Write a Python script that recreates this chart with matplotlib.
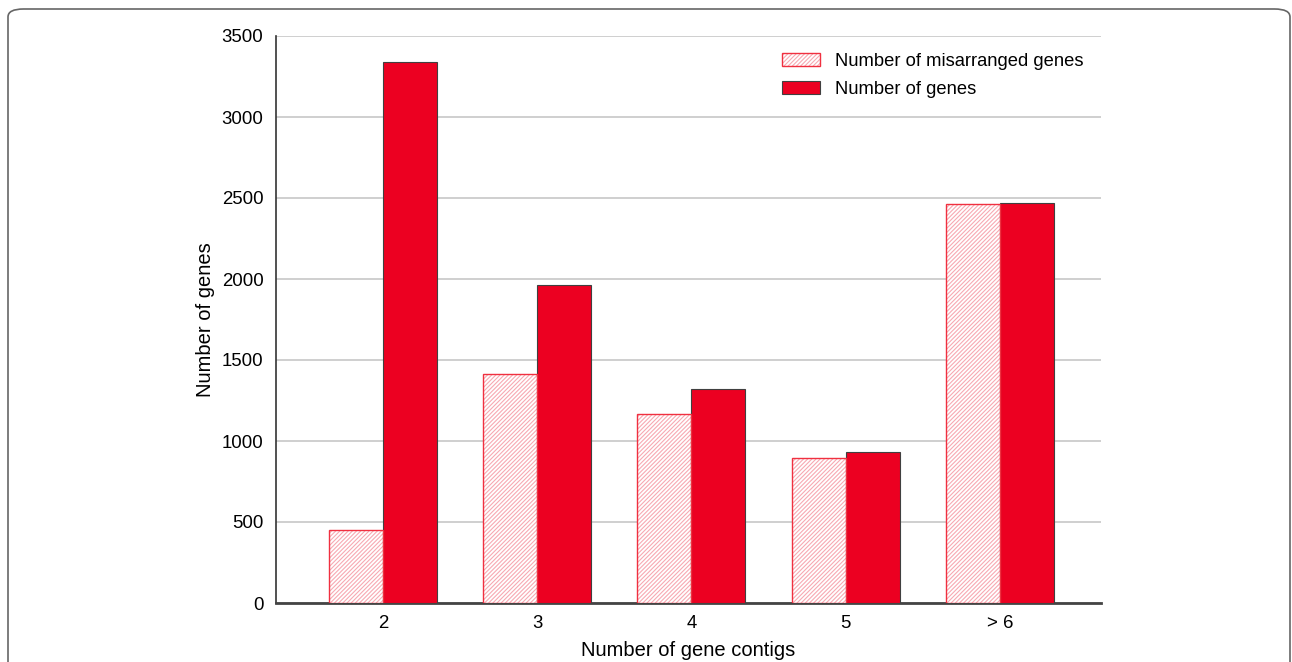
import matplotlib
matplotlib.use("Agg")
import matplotlib.pyplot as plt
from matplotlib.patches import FancyBboxPatch, Patch
from matplotlib.legend_handler import HandlerTuple
import numpy as np

plt.rcParams['font.family'] = ['Liberation Sans', 'DejaVu Sans']
plt.rcParams['hatch.linewidth'] = 0.8

categories = ["2", "3", "4", "5", "> 6"]
misarranged = [450, 1415, 1167, 895, 2463]
genes = [3340, 1963, 1321, 932, 2469]
yticks = [0, 500, 1000, 1500, 2000, 2500, 3000, 3500]

RED = "#ec0021"
HATCH = "#f7a9b2"
OUTLINE = "#f03040"
fig = plt.figure(figsize=(12.92, 6.62), dpi=100)
ax = fig.add_axes([276/1292, 59/662, 825/1292, 567/662])

x = np.arange(len(categories))
w = 0.35
ax.bar(x - w/2, misarranged, w, facecolor="white", edgecolor=HATCH,
       hatch="////////", linewidth=0, zorder=3)
ax.bar(x - w/2, misarranged, w, facecolor="none", edgecolor=OUTLINE,
       linewidth=1.0, zorder=4)
ax.bar(x + w/2, genes, w, facecolor=RED, edgecolor="#404040", linewidth=0.8,
       zorder=3)

ax.set_xlim(-0.693, 4.655)
ax.set_ylim(0, 3500)
ax.set_yticks(yticks)
ax.set_xticks(x)
ax.set_xticklabels(categories)
ax.tick_params(axis='both', length=0, labelsize=13.4, pad=9)
ax.yaxis.grid(True, color="#cccccc", linewidth=1.3, zorder=0)
ax.set_axisbelow(True)
for s in ["top", "right"]:
    ax.spines[s].set_visible(False)
ax.spines["left"].set_color("#333333")
ax.spines["left"].set_linewidth(1.2)
ax.spines["bottom"].set_color("#444444")
ax.spines["bottom"].set_linewidth(2)
ax.set_xlabel("Number of gene contigs", fontsize=14.5, labelpad=6)
ax.set_ylabel("Number of genes", fontsize=14.5, labelpad=5)

h1 = (Patch(facecolor="white", edgecolor=HATCH, hatch="////////", linewidth=0),
      Patch(facecolor="none", edgecolor=OUTLINE, linewidth=1.0))
h2 = Patch(facecolor=RED, edgecolor="#404040", linewidth=0.8)
leg = ax.legend([h1, h2], ["Number of misarranged genes", "Number of genes"],
                handler_map={tuple: HandlerTuple(ndivide=1, pad=0)},
                loc="upper left", bbox_to_anchor=(0.593, 1.0), frameon=False,
                fontsize=13.2, handlelength=2.1, handleheight=0.75,
                handletextpad=0.8, labelspacing=0.6)

frame = FancyBboxPatch((8/1292, -0.1), 1282/1292, (662-9)/662 + 0.1,
                       boxstyle="round,pad=0,rounding_size=0.012",
                       transform=fig.transFigure, facecolor="none",
                       edgecolor="#666666", linewidth=1.2, zorder=-1)
fig.patches.append(frame)

fig.savefig("out.png", dpi=100)
